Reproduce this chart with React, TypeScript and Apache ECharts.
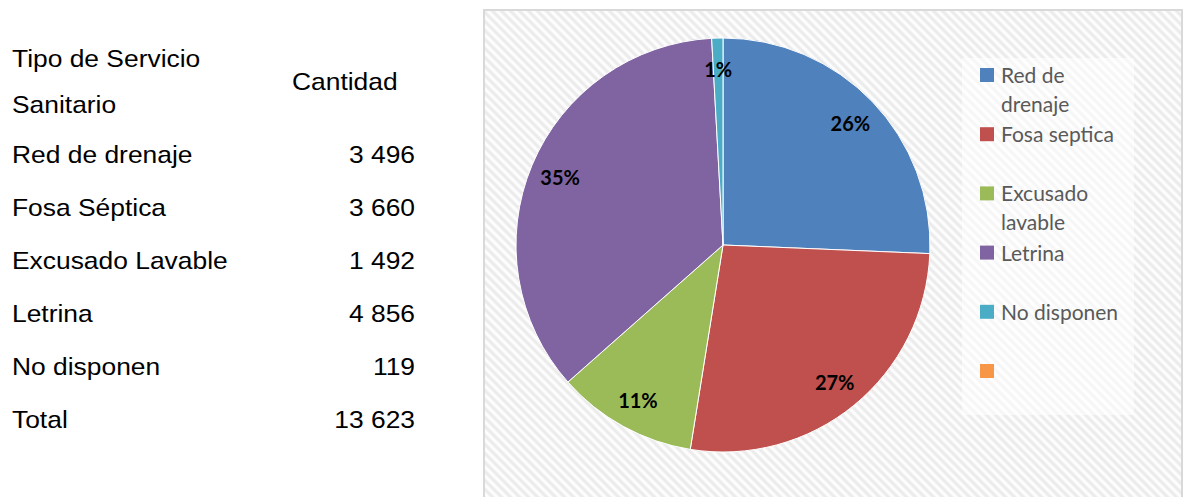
import React, { useEffect, useRef } from 'react';
import * as echarts from 'echarts';

// ---- data ----
const headerCol1 = ['Tipo de Servicio', 'Sanitario'];
const headerCol2 = 'Cantidad';
const categories = ['Red de drenaje', 'Fosa Séptica', 'Excusado Lavable', 'Letrina', 'No disponen'];
const values = [3496, 3660, 1492, 4856, 119];
const totalLabel = 'Total';
const totalValue = 13623;
const legendLabels = ['Red de drenaje', 'Fosa septica', 'Excusado lavable', 'Letrina', 'No disponen', ''];
const colors = ['#4F81BD', '#C0504D', '#9BBB59', '#8064A2', '#4BACC6', '#F79646'];

const fmt = (n: number) => String(n).replace(/\B(?=(\d{3})+(?!\d))/g, ' ');

function makeHatch() {
  const s = 9;
  const c = document.createElement('canvas');
  c.width = s;
  c.height = s;
  const ctx = c.getContext('2d')!;
  const img = ctx.createImageData(s, s);
  for (let y = 0; y < s; y++) {
    for (let x = 0; x < s; x++) {
      const t = ((((x - y) % s) + s) % s) / s;
      const v = Math.round(244 + 10 * Math.cos(2 * Math.PI * t));
      const k = (y * s + x) * 4;
      img.data[k] = v;
      img.data[k + 1] = v;
      img.data[k + 2] = v;
      img.data[k + 3] = 255;
    }
  }
  ctx.putImageData(img, 0, 0);
  return { image: c, repeat: 'repeat', imageWidth: s, imageHeight: s };
}

export default function App() {
  const ref = useRef<HTMLDivElement>(null);
  useEffect(() => {
    const chart = echarts.init(ref.current!, undefined, { renderer: 'svg' });
    const tableFont = { fontFamily: '"Liberation Sans", Arial, sans-serif', fontSize: 24, fill: '#000' };
    const graphics: any[] = [];
    // chart area background
    graphics.push({
      type: 'rect', z: -10, shape: { x: 484, y: 10, width: 698, height: 500 },
      style: { fill: makeHatch() as any, stroke: '#d9d9d9', lineWidth: 2 },
    });
    graphics.push({
      type: 'rect', z: -9, shape: { x: 962, y: 58, width: 172, height: 357 },
      style: { fill: 'rgba(255,255,255,0.55)' },
    });
    // table
    headerCol1.forEach((t, i) => {
      graphics.push({ type: 'text', x: 12, y: 58 + i * 46, scaleX: 1.1,
        style: { ...tableFont, text: t, textAlign: 'left', textVerticalAlign: 'middle' } });
    });
    graphics.push({ type: 'text', x: 292, y: 81, scaleX: 1.1,
      style: { ...tableFont, text: headerCol2, textAlign: 'left', textVerticalAlign: 'middle' } });
    const rows = [...categories.map((c, i) => [c, values[i]] as [string, number]), [totalLabel, totalValue] as [string, number]];
    rows.forEach(([c, v], i) => {
      const y = 154 + i * 53;
      graphics.push({ type: 'text', x: 12, y, scaleX: 1.1,
        style: { ...tableFont, text: c, textAlign: 'left', textVerticalAlign: 'middle' } });
      graphics.push({ type: 'text', x: 415, y, scaleX: 1.1,
        style: { ...tableFont, text: fmt(v), textAlign: 'right', textVerticalAlign: 'middle' } });
    });
    // legend
    legendLabels.forEach((t, i) => {
      const cy = 75 + i * 59.2;
      graphics.push({ type: 'rect', shape: { x: 980, y: cy - 7, width: 14, height: 14 }, style: { fill: colors[i] } });
      graphics.push({ type: 'text', x: 1001, y: cy - 15,
        style: { text: t, fontFamily: 'Lato, sans-serif', fontSize: 21, fill: '#595959', textAlign: 'left',
          textVerticalAlign: 'top', width: 128, overflow: 'break', lineHeight: 29 } });
    });

    const data = categories.map((c, i) => ({ name: c, value: values[i], itemStyle: { color: colors[i] } }));
    chart.setOption({
      animation: false,
      graphic: { elements: graphics },
      series: [
        {
          type: 'pie', center: [723, 245], radius: [0, 207], startAngle: 90, clockwise: true,
          silent: true, label: { show: false }, labelLine: { show: false },
          itemStyle: { borderColor: '#ffffff', borderWidth: 1 },
          data,
        },
        {
          type: 'pie', center: [723, 245], radius: [140, 207], startAngle: 90, clockwise: true,
          silent: true, percentPrecision: 0, avoidLabelOverlap: false,
          itemStyle: { color: 'rgba(0,0,0,0)', borderWidth: 0 },
          label: { show: true, position: 'inside', formatter: '{d}%', fontFamily: 'Lato, sans-serif',
            fontWeight: 'bold', fontSize: 20, color: '#000' },
          labelLine: { show: false },
          data: categories.map((c, i) => ({ name: c, value: values[i] })),
        },
      ],
    });
    return () => chart.dispose();
  }, []);
  return <div ref={ref} style={{ position: 'absolute', left: 0, top: 0, width: 1185, height: 497, background: '#fff' }} />;
}
